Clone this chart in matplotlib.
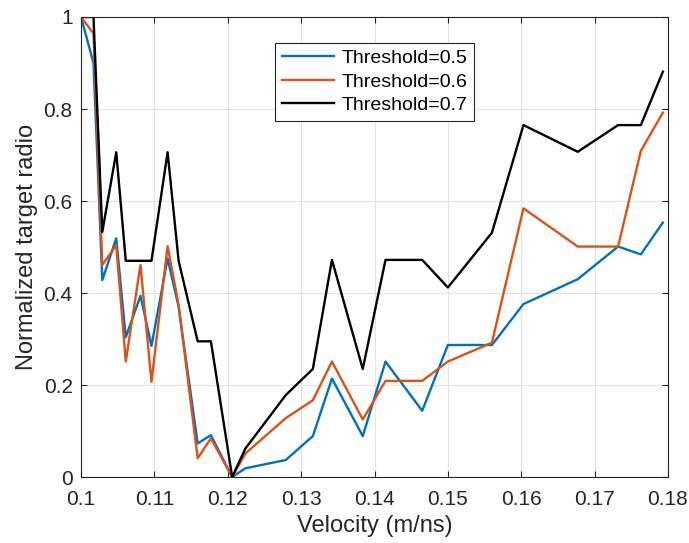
import matplotlib
matplotlib.use("Agg")
import matplotlib.pyplot as plt

# velocity grid (m/ns) and normalized target ratio per threshold
velocity = [0.1, 0.1017, 0.1029, 0.1048, 0.1061, 0.1081, 0.1096, 0.1118, 0.1133,
            0.1159, 0.1177, 0.1206, 0.1224, 0.1279, 0.1316, 0.1342, 0.1384, 0.1415,
            0.1465, 0.1500, 0.1560, 0.1603, 0.1677, 0.1732, 0.1763, 0.1793]
thr05 = [1.0, 0.90, 0.428, 0.519, 0.304, 0.394, 0.285, 0.475, 0.37, 0.073, 0.091, 0.0,
         0.019, 0.037, 0.089, 0.214, 0.089, 0.251, 0.144, 0.287, 0.287, 0.376, 0.43,
         0.501, 0.484, 0.553]
thr06 = [1.0, 0.964, 0.461, 0.504, 0.251, 0.461, 0.207, 0.502, 0.374, 0.041, 0.084, 0.0,
         0.051, 0.128, 0.167, 0.251, 0.125, 0.209, 0.209, 0.251, 0.292, 0.584, 0.501,
         0.501, 0.709, 0.792]
thr07 = [1.0, 1.0, 0.533, 0.706, 0.47, 0.47, 0.47, 0.706, 0.47, 0.295, 0.295, 0.0,
         0.062, 0.178, 0.235, 0.472, 0.235, 0.472, 0.472, 0.412, 0.531, 0.765, 0.707,
         0.765, 0.765, 0.881]
labels = ["Threshold=0.5", "Threshold=0.6", "Threshold=0.7"]
colors = ["#0072BD", "#D95319", "#000000"]

plt.rcParams["font.family"] = ["Liberation Sans", "DejaVu Sans"]

fig = plt.figure(figsize=(6.89, 5.43), dpi=100)
ax = fig.add_axes([0.1176, 0.1215, 0.8519, 0.8472])

for ys, lab, c in zip([thr05, thr06, thr07], labels, colors):
    ax.plot(velocity, ys, color=c, lw=1.7, label=lab)

ax.set_xlim(0.1, 0.18)
ax.set_ylim(0, 1)
ax.set_xticks([0.1, 0.11, 0.12, 0.13, 0.14, 0.15, 0.16, 0.17, 0.18])
ax.set_xticklabels(["0.1", "0.11", "0.12", "0.13", "0.14", "0.15", "0.16", "0.17", "0.18"])
ax.set_yticks([0, 0.2, 0.4, 0.6, 0.8, 1])
ax.set_yticklabels(["0", "0.2", "0.4", "0.6", "0.8", "1"])
ax.tick_params(direction="in", labelsize=15, colors="#262626", length=4,
               top=True, right=True)
ax.tick_params(axis="x", pad=9)
ax.tick_params(axis="y", pad=6)
for s in ax.spines.values():
    s.set_color("#262626")
    s.set_linewidth(0.8)
ax.grid(True, color="#e3e3e3", lw=0.8)
ax.set_axisbelow(True)

ax.set_xlabel("Velocity (m/ns)", fontsize=17, color="#262626", labelpad=5)
ax.set_ylabel("Normalized target radio", fontsize=17, color="#262626", labelpad=4)

leg = ax.legend(loc="upper left", bbox_to_anchor=(0.3305, 0.944), borderaxespad=0,
                fontsize=14, frameon=True, fancybox=False, edgecolor="#262626",
                framealpha=1, handlelength=2.7, borderpad=0.35, labelspacing=0.3,
                handletextpad=0.37)
leg.get_frame().set_linewidth(0.8)

fig.savefig("out.png", dpi=100)
